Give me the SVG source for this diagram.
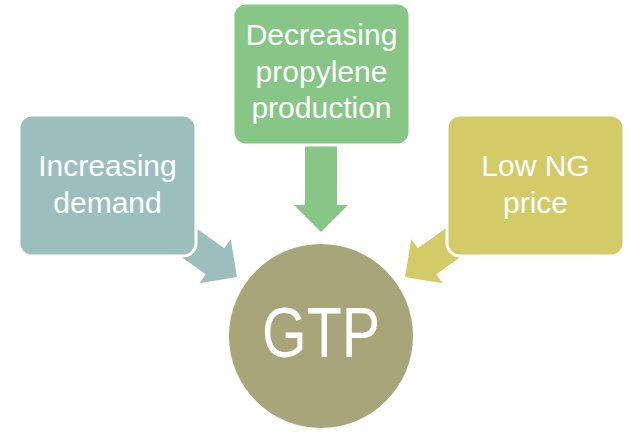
<svg xmlns="http://www.w3.org/2000/svg" width="642" height="432" viewBox="0 0 642 432">
<style>
.lbl{font-family:"Liberation Sans",Arial,sans-serif;font-size:30px;fill:#ffffff;text-anchor:middle}
.box{stroke:#ffffff;stroke-width:3}
</style>
<defs>
<polygon id="arr" points="0,0 -27,27 -27,16 -90,16 -90,-16 -27,-16 -27,-27"/>
</defs>
<rect width="642" height="432" fill="#ffffff"/>
<g id="connectors">
<use href="#arr" fill="#9CBFBE" transform="translate(237,277) rotate(35.5)"/>
<use href="#arr" fill="#88C687" transform="translate(321,232) rotate(90)"/>
<use href="#arr" fill="#D3CB67" transform="translate(405,277) rotate(144.5)"/>
</g>
<g id="node-demand">
<rect class="box" x="19" y="115" width="177" height="141" rx="13" fill="#9CBFBE"/>
<text class="lbl" x="107.5" y="176">Increasing</text>
<text class="lbl" x="107.5" y="213">demand</text>
</g>
<g id="node-propylene">
<rect class="box" x="233" y="3" width="177" height="142" rx="13" fill="#88C687"/>
<text class="lbl" x="321.5" y="45">Decreasing</text>
<text class="lbl" x="321.5" y="82">propylene</text>
<text class="lbl" x="321.5" y="118">production</text>
</g>
<g id="node-ng">
<rect class="box" x="447" y="115" width="177" height="141" rx="13" fill="#D3CB67"/>
<text class="lbl" x="535.5" y="176">Low NG</text>
<text class="lbl" x="535.5" y="213">price</text>
</g>
<g id="node-gtp">
<circle cx="321" cy="336" r="92" fill="#A8A57B"/>
<text x="321" y="357" font-family="Liberation Sans, Arial, sans-serif" font-size="70" fill="#ffffff" text-anchor="middle" textLength="118" lengthAdjust="spacingAndGlyphs">GTP</text>
</g>
</svg>
